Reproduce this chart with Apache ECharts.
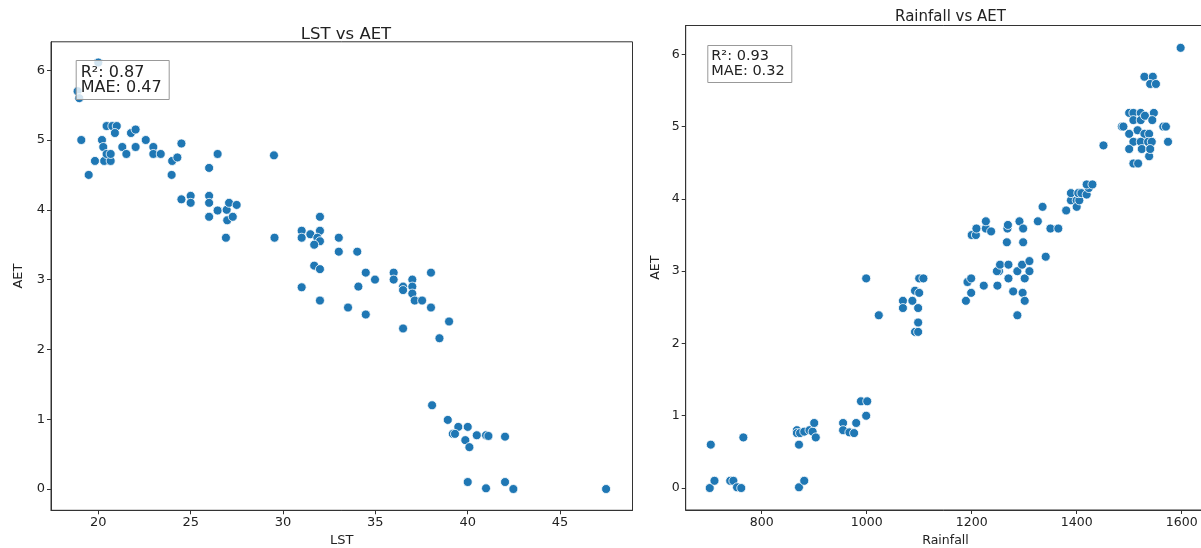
<!DOCTYPE html>
<html>
<head>
<meta charset="utf-8">
<script src="https://cdn.jsdelivr.net/npm/echarts@6/dist/echarts.min.js"></script>
<style>
html,body{margin:0;padding:0;background:#fff;}
#c{width:1201px;height:548px;}
</style>
</head>
<body>
<div id="c"></div>
<script>
// ---- Data: LST vs AET ----
var lst = [20.0,18.88,18.97,19.08,19.48,19.82,20.2,20.27,20.32,20.45,20.67,20.67,20.45,20.76,21.0,20.9,21.3,21.52,21.77,22.02,22.02,22.57,22.98,22.98,23.38,24.0,24.28,24.5,23.97,26.0,26.46,29.51,24.5,25.0,25.0,26.0,26.0,26.46,26.95,27.08,27.49,26.0,26.98,27.28,26.91,29.54,32.0,31.01,32.0,31.01,31.48,31.86,32.0,31.69,33.02,33.02,34.02,31.69,32.0,31.01,32.0,34.08,34.48,34.98,35.99,35.99,37.0,36.5,36.5,37.0,37.0,37.13,37.53,38.01,38.01,33.52,34.48,36.5,38.99,38.47,38.07,38.92,39.49,40.0,39.19,39.31,40.49,40.99,41.12,42.02,39.87,40.09,40.0,42.02,40.99,42.47,47.49];
var aetL = [6.11,5.70,5.60,5.0,4.5,4.7,5.0,4.9,4.7,4.8,4.7,4.8,5.2,5.2,5.2,5.1,4.9,4.8,5.1,5.15,4.9,5.0,4.9,4.8,4.8,4.7,4.75,4.95,4.5,4.6,4.8,4.78,4.15,4.2,4.1,4.2,4.1,3.99,4.0,4.1,4.07,3.9,3.85,3.9,3.6,3.6,3.9,3.7,3.7,3.6,3.65,3.6,3.55,3.5,3.6,3.4,3.4,3.2,3.15,2.89,2.7,2.9,3.1,3.0,3.1,3.0,3.0,2.9,2.85,2.9,2.8,2.7,2.7,3.1,2.6,2.6,2.5,2.3,2.4,2.16,1.2,0.99,0.89,0.89,0.79,0.79,0.77,0.77,0.76,0.75,0.7,0.6,0.1,0.1,0.01,0.0,0.0];

// ---- Data: Rainfall vs AET ----
var rain = [703,765,701,710,740,746,753,761,871,881,871,867,867,873,881,891,897,900,903,955,955,967,976,980,989,1001,999,999,1100,1108,1092,1100,1069,1087,1069,1098,1023,1098,1092,1098,1189,1199,1192,1199,1223,1249,1252,1248,1254,1270,1270,1279,1287,1287,1297,1301,1301,1296,1310,1310,1341,1267,1298,1200,1208,1209,1227,1227,1237,1268,1269,1291,1298,1326,1335,1350,1365,1380,1389,1389,1400,1400,1405,1403,1409,1419,1423,1419,1430,1451,1508,1517,1538,1598,1529,1545,1540,1551,1500,1508,1522,1547,1508,1522,1530,1544,1486,1489,1565,1570,1516,1500,1529,1538,1508,1522,1536,1543,1574,1500,1524,1540];
var aetR = [0.6,0.7,0.0,0.1,0.1,0.1,0.01,0.0,0.01,0.1,0.6,0.8,0.76,0.76,0.78,0.8,0.78,0.9,0.7,0.9,0.8,0.77,0.76,0.9,1.2,1.2,1.0,2.9,2.9,2.9,2.73,2.7,2.59,2.59,2.49,2.49,2.39,2.29,2.16,2.16,2.59,2.7,2.85,2.9,2.8,2.8,3.0,3.0,3.09,3.09,2.9,2.72,3.0,2.39,2.7,2.59,2.9,3.09,3.14,3.0,3.2,3.4,3.4,3.5,3.5,3.59,3.59,3.69,3.55,3.59,3.64,3.69,3.59,3.69,3.89,3.59,3.59,3.84,3.98,4.08,3.98,3.89,3.98,4.08,4.08,4.06,4.15,4.2,4.2,4.74,4.49,4.49,4.59,6.09,5.69,5.69,5.59,5.59,5.19,5.19,5.19,5.19,5.09,5.09,5.15,5.09,5.0,5.0,5.0,5.0,4.95,4.9,4.9,4.9,4.79,4.79,4.79,4.79,4.79,4.69,4.69,4.69];

var lstTicks = [20,25,30,35,40,45];
var rainTicks = [800,1000,1200,1400,1600];
var aetTicks = [0,1,2,3,4,5,6];

var titleL = 'LST vs AET';
var titleR = 'Rainfall vs AET';
var statsL = 'R\u00b2: 0.87\nMAE: 0.47';
var statsR = 'R\u00b2: 0.93\nMAE: 0.32';

function zip(a,b){var r=[];for(var i=0;i<a.length;i++)r.push([a[i],b[i]]);return r;}

var FONT = 'DejaVu Sans';
var AX = '#333';
function valAxis(idx, min, max, ticks, name, gap, fs){
  return {
    type:'value', gridIndex:idx, min:min, max:max,
    name:name, nameLocation:'middle', nameGap:gap,
    nameTextStyle:{fontFamily:FONT,fontSize:fs,color:'#222'},
    axisLine:{show:true,onZero:false,lineStyle:{color:AX,width:1}},
    axisTick:{show:true,length:4,inside:false,customValues:ticks,lineStyle:{color:AX}},
    axisLabel:{show:true,customValues:ticks,fontFamily:FONT,fontSize:fs,color:'#222',margin:6,
      formatter:function(v){return String(v);}},
    splitLine:{show:false}
  };
}

var chart = echarts.init(document.getElementById('c'), null, {renderer:'canvas'});
chart.setOption({
  animation:false,
  backgroundColor:'#fff',
  title:[
    {text:titleL,left:341,top:21,textAlign:'center',textStyle:{fontFamily:FONT,fontSize:16.5,fontWeight:'normal',color:'#222'}},
    {text:titleR,left:945.5,top:5,textAlign:'center',textStyle:{fontFamily:FONT,fontSize:15,fontWeight:'normal',color:'#222'}},
    {text:statsL,left:75.7,top:61,padding:[4,8,4,5],backgroundColor:'rgba(255,255,255,0.8)',borderColor:'#999',borderWidth:1,textStyle:{fontFamily:FONT,fontSize:16,lineHeight:15,fontWeight:'normal',color:'#222'}},
    {text:statsR,left:707.3,top:45,padding:[4,7,4,4],backgroundColor:'rgba(255,255,255,0.8)',borderColor:'#999',borderWidth:1,textStyle:{fontFamily:FONT,fontSize:14.5,lineHeight:15,fontWeight:'normal',color:'#222'}}
  ],
  grid:[
    {left:51,top:41.8,width:581.5,height:468.5,show:true,borderColor:AX,borderWidth:1,backgroundColor:'transparent',containLabel:false,outerBoundsMode:'none'},
    {left:685.7,top:25.5,width:519.6,height:484.5,show:true,borderColor:AX,borderWidth:1,backgroundColor:'transparent',containLabel:false,outerBoundsMode:'none'}
  ],
  xAxis:[
    valAxis(0,17.44,48.92,lstTicks,'LST',24,13),
    valAxis(1,655.2,1645,rainTicks,'Rainfall',24,12.5)
  ],
  yAxis:[
    valAxis(0,-0.305,6.407,aetTicks,'AET',26,13),
    valAxis(1,-0.304,6.399,aetTicks,'AET',23,12.5)
  ],
  series:[
    {type:'scatter',xAxisIndex:0,yAxisIndex:0,data:zip(lst,aetL),symbolSize:9,
     itemStyle:{color:'#1f77b4',borderColor:'#fff',borderWidth:0.8,opacity:1}},
    {type:'scatter',xAxisIndex:1,yAxisIndex:1,data:zip(rain,aetR),symbolSize:9,
     itemStyle:{color:'#1f77b4',borderColor:'#fff',borderWidth:0.8,opacity:1}}
  ]
});
</script>
</body>
</html>
